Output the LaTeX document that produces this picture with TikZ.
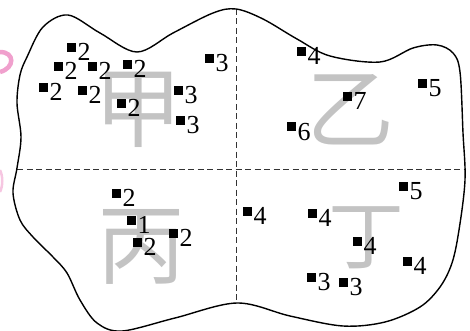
\documentclass[tikz,border=0pt]{standalone}
\usepackage{fontspec}
\setmainfont{Liberation Serif}
\newfontfamily\cjk{Noto Sans CJK SC}
\definecolor{pinkish}{RGB}{240,160,205}
\definecolor{cjkgray}{RGB}{195,195,195}
\newcommand\pnt[4]{%
  \node[sqbox] (#1) at (#2,#3) {};
  \node[lbl] (#1l) at ([xshift=2pt,yshift=-13pt]#1.east) {#4};}
\begin{document}
\begin{tikzpicture}[x=1pt,y=-1pt,
  sqbox/.style={fill=black,minimum size=9pt,inner sep=0pt,outer sep=0pt},
  lbl/.style={anchor=base west,inner sep=0pt,font=\fontsize{26}{26}\selectfont},
  outline/.style={line width=1.4pt,black},
  divider/.style={line width=0.9pt,dash pattern=on 6pt off 3.5pt,black!80},
  bigchar/.style={text=cjkgray,inner sep=0pt}]
\useasboundingbox (0,0) rectangle (470,331);
% faint pink fragments at the left edge
\draw[pinkish,line width=4.5pt] (0,52) .. controls (15,52) and (15,68) .. (0,72);
\draw[pinkish!60,line width=2.5pt] (0,170) .. controls (3,176) and (3,186) .. (0,192);
% large grey characters
\node[bigchar,font=\cjk\fontsize{88}{88}\selectfont] (jia) at (138,110) {甲};
\node[bigchar,font=\cjk\fontsize{88}{88}\selectfont] (yi) at (350,110) {乙};
\node[bigchar,font=\cjk\fontsize{88}{88}\selectfont] (bing) at (141,247) {丙};
\node[bigchar,font=\cjk\fontsize{76}{76}\selectfont] (ding) at (366,238) {丁};
% dividing lines
\coordinate (vt) at (236,9);
\coordinate (vb) at (236,303);
\coordinate (hl) at (17,169);
\coordinate (hr) at (464,169);
\draw[divider] (vt) -- (vb);
\draw[divider] (hl) -- (hr);
% outline
\draw[outline] plot[smooth cycle,tension=0.55] coordinates {
 (27,57) (43,27) (68,15) (100,33) (137,52) (173,33) (213,13) (236,9)
 (263,19) (297,39) (330,56) (380,62) (413,48) (437,45) (453,53) (460,72)
 (463,133) (465,180) (459,230) (452,263) (440,287) (420,307) (385,322)
 (343,326) (290,316) (237,303) (175,318) (122,331) (97,323) (80,300)
 (67,273) (53,257) (33,237) (20,220) (13,193) (17,168) (21,137) (17,103) (20,75)};
% points: top-left
\pnt{a1}{71}{48}{2}
\pnt{a2}{58}{67}{2}
\pnt{a3}{92}{67}{2}
\pnt{a4}{127}{65}{2}
\pnt{a5}{43}{88}{2}
\pnt{a6}{82}{91}{2}
\pnt{a7}{121}{104}{2}
\pnt{a8}{209}{59}{3}
\pnt{a9}{178}{91}{3}
\pnt{a10}{180}{121}{3}
% top-right
\pnt{b1}{301}{52}{4}
\pnt{b2}{422}{84}{5}
\pnt{b3}{347}{97}{7}
\pnt{b4}{291}{127}{6}
% bottom-left
\pnt{c1}{116}{193}{2}
\pnt{c2}{131}{220}{1}
\pnt{c3}{137}{242}{2}
\pnt{c4}{173}{233}{2}
% bottom-right
\pnt{d1}{403}{186}{5}
\pnt{d2}{247}{211}{4}
\pnt{d3}{312}{213}{4}
\pnt{d4}{357}{241}{4}
\pnt{d5}{407}{261}{4}
\pnt{d6}{311}{277}{3}
\pnt{d7}{343}{282}{3}
\end{tikzpicture}
\end{document}
